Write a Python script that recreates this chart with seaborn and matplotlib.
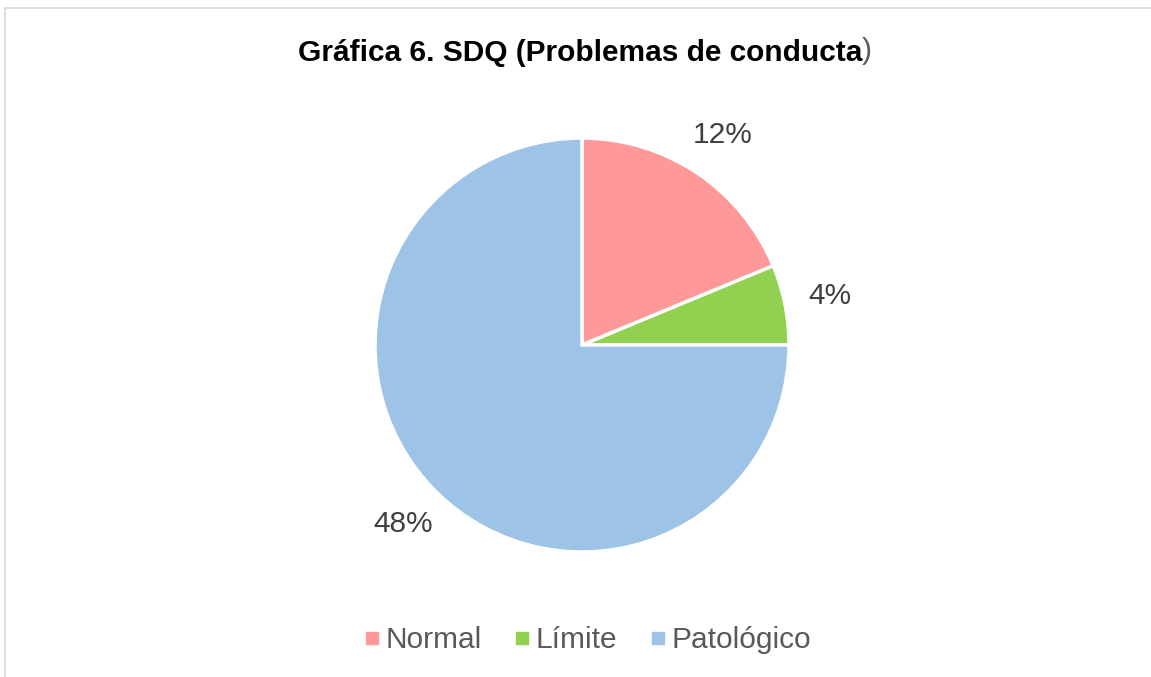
import matplotlib
matplotlib.use("Agg")
import matplotlib.pyplot as plt
import seaborn as sns
from matplotlib.lines import Line2D

# ---- data ----
categories = ["Normal", "Límite", "Patológico"]
values = [12, 4, 48]
colors = ["#FF9999", "#92D050", "#9DC3E6"]
title = "Gráfica 6. SDQ (Problemas de conducta"

sns.set_theme(style="white")
plt.rcParams["font.family"] = ["Liberation Sans", "DejaVu Sans"]

W, H = 1151, 677
fig = plt.figure(figsize=(W / 100, H / 100), dpi=100)
fig.patch.set_facecolor("white")

# pie centre (582, 345) px, radius ~207 px
r_px = 207
cx, cy = 582, 345
aw = 2 * r_px * 1.25
ax = fig.add_axes([(cx - aw / 2) / W, (H - cy - aw / 2) / H, aw / W, aw / H])

wedges, texts = ax.pie(
    values, colors=colors, startangle=90, counterclock=False,
    wedgeprops=dict(edgecolor="white", linewidth=2.5),
    labels=[f"{v}%" for v in values], labeldistance=1.22,
    textprops=dict(fontsize=21.5, color="#404040"),
)
for t in texts:
    t.set_ha("center")
    t.set_va("center")
ax.set_xlim(-1.25, 1.25)
ax.set_ylim(-1.25, 1.25)
ax.set_aspect("equal")

# title: bold part + thin closing paren
fig.text(862 / W, 1 - 53 / H, title, ha="right", va="center",
         fontsize=21.5, fontweight="bold", color="black")
fig.text(862 / W, 1 - 51 / H, ")", ha="left", va="center",
         fontsize=21.5, color="#595959")

# legend
handles = [Line2D([0], [0], marker="s", linestyle="", markersize=9,
                  markerfacecolor=c, markeredgecolor=c) for c in colors]
fig.legend(handles, categories, loc="center", bbox_to_anchor=(584 / W, 1 - 640 / H),
           ncol=3, frameon=False, fontsize=21.5, labelcolor="#595959",
           handletextpad=-0.05, columnspacing=0.85, handlelength=1.0)

# chart border (top and left only visible)
fig.add_artist(Line2D([5 / W, 1], [1 - 8 / H, 1 - 8 / H], color="#D9D9D9", lw=1.2))
fig.add_artist(Line2D([5 / W, 5 / W], [0, 1 - 8 / H], color="#D9D9D9", lw=1.2))

fig.savefig("out.png", dpi=100, facecolor="white")
